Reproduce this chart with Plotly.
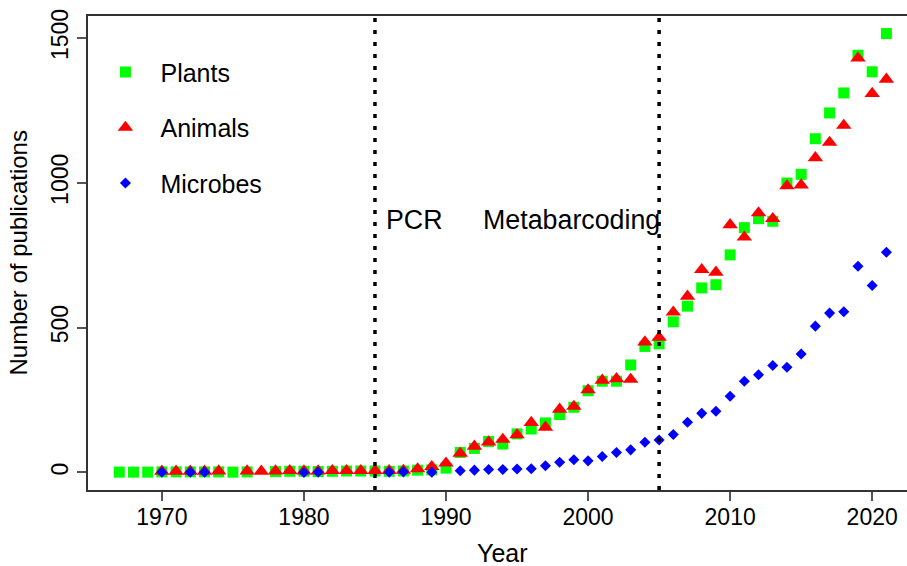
import plotly.graph_objects as go

years = list(range(1967, 2022))

plants = [1, 1, 1, 2, 2, 2, 2, 2, 1, 2,
          None, 3, 4, 4, 3, 4, 5, 5, 5, 4,
          5, 8, 9, 15, 69, 83, 107, 98, 133, 150,
          171, 200, 225, 282, 315, 315, 371, 435, 444, 520,
          574, 637, 648, 751, 845, 876, 867, 999, 1029, 1152,
          1241, 1310, 1440, 1383, 1515]

animals = [None, None, None, 4, 4, 4, 4, 5, None, 5,
           4, 5, 6, 5, 5, 6, 6, 6, 6, 6,
           7, 12, 20, 32, 66, 90, 105, 114, 130, 172,
           156, 218, 228, 285, 318, 323, 321, 450, 466, 553,
           608, 700, 691, 855, 812, 896, 876, 989, 992, 1086,
           1139, 1198, 1430, 1308, 1357]

microbes = [None, None, None, 1, None, 1, 1, None, None, None,
            None, None, None, 0, 1, None, None, None, None, 1,
            2, None, 1, None, 6, 8, 10, 10, 12, 13,
            23, 35, 44, 40, 55, 69, 78, 104, 112, 131,
            173, 204, 211, 263, 315, 337, 369, 363, 409, 505,
            550, 555, 712, 645, 760]

series_names = ["Plants", "Animals", "Microbes"]
event_years = [1985, 2005]
event_labels = ["PCR", "Metabarcoding"]
x_ticks = [1970, 1980, 1990, 2000, 2010, 2020]
y_ticks = [0, 500, 1000, 1500]

FONT = "Liberation Sans, Arial, sans-serif"

fig = go.Figure()
specs = [
    (series_names[0], plants, "square", "#00FF00", 11),
    (series_names[1], animals, "triangle-up", "#FF0000", 13.5),
    (series_names[2], microbes, "diamond", "#0000FF", 8.5),
]
for name, vals, sym, col, sz in specs:
    fig.add_trace(go.Scatter(
        x=years, y=vals, mode="markers", name=name, legendgroup=name,
        marker=dict(symbol=sym, color=col, size=sz, line=dict(width=0)),
    ))

for ex in event_years:
    fig.add_shape(type="line", xref="x", yref="paper", x0=ex, x1=ex, y0=0, y1=1,
                  line=dict(color="black", width=3.5, dash="4px,8px"))

label_x = [1987.8, 1998.8]
for lx, txt in zip(label_x, event_labels):
    fig.add_annotation(x=lx, y=870, xref="x", yref="y", text=txt, showarrow=False,
                       font=dict(family=FONT, size=26.8, color="black"))

fig.add_annotation(x=1994, y=0, xref="x", yref="paper", yshift=-79,
                   text="Year", showarrow=False,
                   font=dict(family=FONT, size=25, color="black"))
fig.add_annotation(x=0, y=0.5, xref="paper", yref="paper", xshift=-86,
                   text="Number of publications", textangle=-90, showarrow=False,
                   font=dict(family=FONT, size=24, color="black"))

fig.update_layout(
    width=907, height=566,
    margin=dict(l=88, r=0, t=16, b=76),
    plot_bgcolor="white", paper_bgcolor="white",
    font=dict(family=FONT, size=23, color="black"),
    showlegend=True,
    legend=dict(x=0.003, y=0.93, xanchor="left", yanchor="top",
                bgcolor="rgba(0,0,0,0)", font=dict(family=FONT, size=25),
                itemwidth=60, tracegroupgap=20, traceorder="grouped"),
)
fig.update_xaxes(range=[1964.8, 2022.45], tickvals=x_ticks, showgrid=False,
                 zeroline=False, showline=True, linecolor="#333", linewidth=1.5,
                 mirror=True, ticks="outside", ticklen=9, tickwidth=1.5,
                 tickcolor="#555", tickfont=dict(size=23), ticklabelstandoff=-3)
fig.update_yaxes(range=[-60.6, 1575.6], tickvals=y_ticks, showgrid=False,
                 zeroline=False, showline=True, linecolor="#333", linewidth=1.5,
                 ticks="outside", ticklen=9, tickwidth=1.5, tickcolor="#555",
                 tickangle=-90, tickfont=dict(size=23))

fig.write_html("out.html")
